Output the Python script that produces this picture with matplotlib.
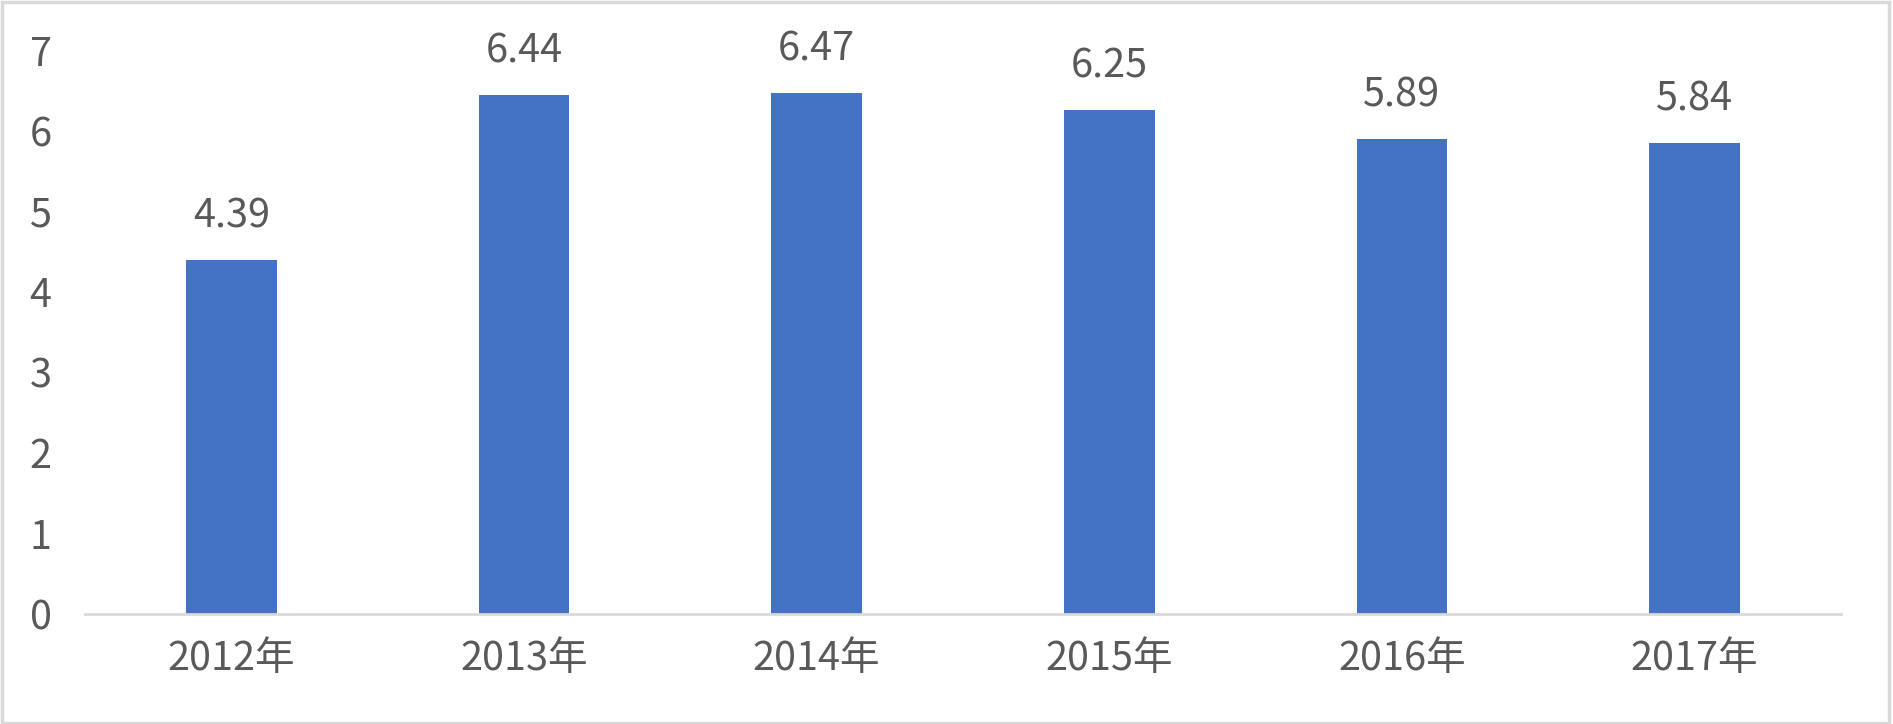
import matplotlib
matplotlib.use("Agg")
import matplotlib.pyplot as plt
from matplotlib.patches import Rectangle

categories = ["2012年", "2013年", "2014年", "2015年", "2016年", "2017年"]
values = [4.39, 6.44, 6.47, 6.25, 5.89, 5.84]
yticks = [0, 1, 2, 3, 4, 5, 6, 7]

plt.rcParams['font.family'] = ['Noto Sans CJK SC', 'DejaVu Sans']
plt.rcParams['font.weight'] = 'light'
text_color = '#595959'

fig = plt.figure(figsize=(18.93, 7.24), dpi=100)
ax = fig.add_axes([85/1893, 110/724, 1756/1893, 564/724])

x = list(range(len(categories)))
bars = ax.bar(x, values, width=0.31, color='#4472C4', linewidth=0, zorder=2)
ax.set_xlim(-0.5, len(categories) - 0.5)
ax.set_ylim(0, 7)
ax.set_yticks(yticks)
ax.set_yticklabels([str(t) for t in yticks])
ax.set_xticks(x)
ax.set_xticklabels(categories)

for s in ['top', 'right', 'left']:
    ax.spines[s].set_visible(False)
ax.spines['bottom'].set_color('#D9D9D9')
ax.spines['bottom'].set_linewidth(2)
ax.tick_params(axis='both', length=0, labelsize=28.5, colors=text_color)
ax.tick_params(axis='y', pad=24)
ax.tick_params(axis='x', pad=18)

for xi, v in zip(x, values):
    ax.annotate(f"{v:.2f}", (xi, v), xytext=(0, 23.5), textcoords='offset points',
                ha='center', va='baseline', fontsize=28.5, color=text_color,
                fontweight='light')

fig.patches.append(Rectangle((0.001, 0.002), 0.997, 0.995, transform=fig.transFigure,
                             fill=False, edgecolor='#D9D9D9', linewidth=2.5))

fig.savefig('out.png', dpi=100)
